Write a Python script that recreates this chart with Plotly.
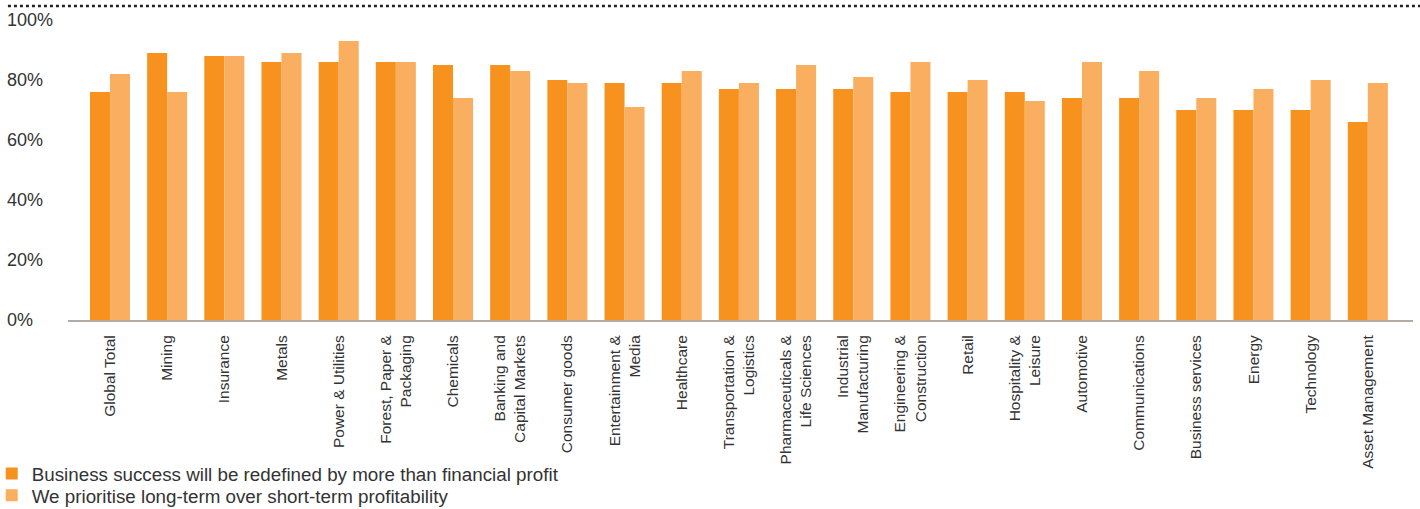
import plotly.graph_objects as go

# data
categories = [
    "Global Total", "Mining", "Insurance", "Metals", "Power & Utilities",
    "Forest, Paper &<br>Packaging", "Chemicals", "Banking and<br>Capital Markets",
    "Consumer goods", "Entertainment &<br>Media", "Healthcare",
    "Transportation &<br>Logistics", "Pharmaceuticals &<br>Life Sciences",
    "Industrial<br>Manufacturing", "Engineering &<br>Construction", "Retail",
    "Hospitality &<br>Leisure", "Automotive", "Communications",
    "Business services", "Energy", "Technology", "Asset Management",
]
redefined_success = [76, 89, 88, 86, 86, 86, 85, 85, 80, 79, 79, 77, 77, 77,
                     76, 76, 76, 74, 74, 70, 70, 70, 66]
long_term_priority = [82, 76, 88, 89, 93, 86, 74, 83, 79, 71, 83, 79, 85, 81,
                      86, 80, 73, 86, 83, 74, 77, 80, 79]
series_names = [
    "Business success will be redefined by more than financial profit",
    "We prioritise long-term over short-term profitability",
]
y_ticks = [0, 20, 40, 60, 80, 100]
y_tick_labels = ["0%", "20%", "40%", "60%", "80%", "100%"]

DARK = "#F7921E"
LIGHT = "#FAAE5F"
FONT = "Liberation Sans, Arial, sans-serif"
TEXT = "#333333"

fig = go.Figure()
fig.add_trace(go.Bar(x=categories, y=redefined_success, name=series_names[0],
                     marker=dict(color=DARK, line=dict(width=0)), legend="legend"))
fig.add_trace(go.Bar(x=categories, y=long_term_priority, name=series_names[1],
                     marker=dict(color=LIGHT, line=dict(width=0)), legend="legend2"))

# one legend per row so the rows can sit as tight as in the original
legend_style = dict(x=-0.008, xanchor="left", yanchor="top",
                    font=dict(size=18.8, color=TEXT), itemwidth=30,
                    bgcolor="rgba(0,0,0,0)")

fig.update_layout(
    template="none",
    width=1420, height=509,
    margin=dict(l=3, r=7, t=20, b=189, autoexpand=False),
    paper_bgcolor="white", plot_bgcolor="white",
    font=dict(family=FONT, color=TEXT),
    barmode="group", bargap=0.3, bargroupgap=0,
    showlegend=True,
    legend=dict(y=-0.449, **legend_style),
    legend2=dict(y=-0.522, **legend_style),
    xaxis=dict(
        domain=[0.0461, 1], range=[-0.734, 22.79], automargin=False,
        showgrid=False, showline=True, linecolor="#b3aca6", linewidth=2,
        ticks="", tickangle=-90, ticklabelstandoff=7,
        tickfont=dict(size=15.5, color=TEXT), fixedrange=True,
    ),
    yaxis=dict(
        range=[0, 100], anchor="free", position=0, automargin=False,
        tickvals=y_ticks, ticktext=y_tick_labels,
        ticklabelposition="inside", ticklabeloverflow="allow",
        showgrid=False, showline=False, zeroline=False, ticks="",
        tickfont=dict(size=18, color=TEXT), fixedrange=True,
    ),
    shapes=[dict(type="line", xref="paper", yref="paper",
                 x0=0.0035, x1=1.005, y0=1.0467, y1=1.0467,
                 line=dict(color="#222222", width=2.5, dash="dot"))],
)

# the page body has a default 8px margin; drop it so the figure sits at 0,0
fig.write_html("out.html", config={"displayModeBar": False},
               post_script="document.body.style.margin='0';")
